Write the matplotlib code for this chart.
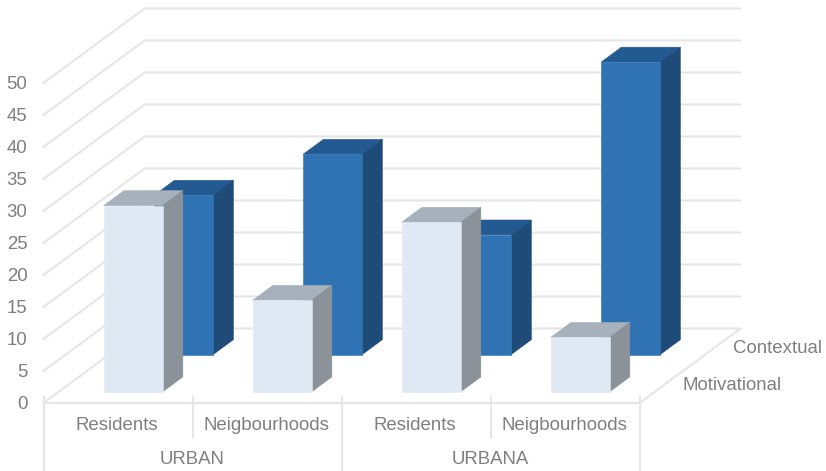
import numpy as np
import matplotlib
matplotlib.use('Agg')
import matplotlib.pyplot as plt

plt.rcParams['font.family'] = ['Liberation Sans', 'DejaVu Sans']
plt.rcParams['font.size'] = 13.4

# Data
categories = ['Residents', 'Neigbourhoods', 'Residents', 'Neigbourhoods']
groups = ['URBAN', 'URBANA']
motivational = [29.1, 14.3, 26.5, 8.5]
contextual = [24.9, 31.3, 18.7, 45.7]
y_ticks = [0, 5, 10, 15, 20, 25, 30, 35, 40, 45, 50]
series_names = ['Motivational', 'Contextual']

# Oblique projection, one unit of depth moves this far in data units
DEPTH_X = 101 / 149
DEPTH_Y = 74.5 / 6.4
BAR_W = 59 / 149
BAR_D = 0.2

GRID = '#e6e6e6'
TEXT = '#7f7f7f'


def project(cat, val, depth):
    return cat + depth * DEPTH_X, val + depth * DEPTH_Y


def draw_bar(ax, cat, val, depth, front, top, side):
    # cat is the left edge of the bar, depth its front
    x0, x1 = cat, cat + BAR_W
    d0, d1 = depth, depth + BAR_D
    faces = [
        ([(x0, val, d0), (x1, val, d0), (x1, val, d1), (x0, val, d1)], top),
        ([(x1, 0, d0), (x1, 0, d1), (x1, val, d1), (x1, val, d0)], side),
        ([(x0, 0, d0), (x1, 0, d0), (x1, val, d0), (x0, val, d0)], front),
    ]
    for corners, color in faces:
        pts = np.array([project(*c) for c in corners])
        ax.fill(pts[:, 0], pts[:, 1], color=color, lw=0.4, zorder=3)


fig = plt.figure(figsize=(8.26, 4.71), dpi=100)
ax = fig.add_axes([0, 0, 1, 1])
# category units across, value units up, 0/0 sits at the front left floor corner
ax.set_xlim(-43.5 / 149, (826 - 43.5) / 149)
ax.set_ylim(-68 / 6.4, 403 / 6.4)
ax.axis('off')

# Side and back walls
for v in y_ticks:
    x, y = zip(project(0, v, 0), project(0, v, 1), project(4, v, 1))
    ax.plot(x, y, color=GRID, lw=1.5, zorder=1)
    ax.text(-16 / 149, v - 0.2, str(v), ha='right', va='center', color=TEXT)

# Floor edges and axis separators
x, y = zip(project(0, 0, 0), project(4, 0, 0), project(4, 0, 1))
ax.plot(x, y, color=GRID, lw=1.5, zorder=1)
for i in range(5):
    low = -67 / 6.4 if i % 2 == 0 else -34 / 6.4
    ax.plot([i, i], [1, low], color=GRID, lw=1.5, zorder=1)

# Back row first so the front row covers it
for i, val in enumerate(contextual):
    draw_bar(ax, i + 45 / 149, val, 0.65, '#2f73b4', '#245a92', '#1f4b78')
for i, val in enumerate(motivational):
    draw_bar(ax, i + 45 / 149, val, 0.15, '#dfe9f4', '#a7b1bc', '#8b9299')

for i, name in enumerate(categories):
    ax.text(i + 0.495, -23 / 6.4, name, ha='center', va='center', color=TEXT)
for i, name in enumerate(groups):
    ax.text(2 * i + 0.995, -56 / 6.4, name, ha='center', va='center', color=TEXT)

for name, depth in zip(series_names, [0.25, 0.75]):
    x, y = project(4, 0, depth)
    ax.text(x + 18 / 149, y - 1 / 6.4, name, ha='left', va='center', color=TEXT)

fig.savefig('out.png', dpi=100)
